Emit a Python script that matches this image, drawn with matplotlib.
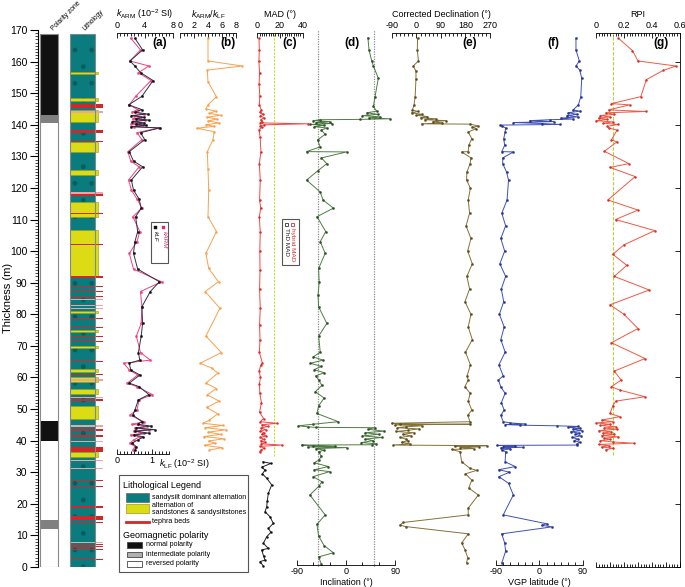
#!/usr/bin/env python3
"""Composite section log: polarity, lithology and palaeomagnetic parameters vs thickness."""

import matplotlib
matplotlib.use("Agg")
import matplotlib.pyplot as plt
from matplotlib.patches import Rectangle
from matplotlib.lines import Line2D
from matplotlib.ticker import MultipleLocator, FixedLocator, FuncFormatter

plt.rcParams["font.family"] = ["Liberation Sans", "DejaVu Sans"]
plt.rcParams["mathtext.fontset"] = "custom"
plt.rcParams["mathtext.rm"] = "Liberation Sans"
plt.rcParams["mathtext.it"] = "Liberation Sans:italic"
plt.rcParams["axes.unicode_minus"] = False

# ---------------- data ----------------
# polarity zones (m)
pol_bottom = [0.0, 12.0, 14.9, 40.0, 46.3, 140.6, 143.0]
pol_top = [12.0, 14.9, 40.0, 46.3, 140.6, 143.0, 168.6]
pol_kind = ["R", "I", "R", "N", "R", "I", "N"]

# sandstone / sandysiltstone beds (m)
sand_bottom = [34.7, 46.7, 54.7, 58.6, 61.8, 69.3, 74.3, 80.3, 92.1, 110.7, 124.0, 131.4, 141.0, 147.6, 156.0]
sand_top = [36.3, 50.9, 56.3, 60.0, 62.6, 70.0, 75.0, 81.1, 106.6, 115.4, 125.6, 134.6, 144.6, 148.4, 156.8]

# tephra beds (m)
tephra_depth = [2.4, 5.4, 6.4, 7.0, 7.7, 14.1, 15.6, 18.9, 25.4, 27.5, 31.2, 33.8, 37.2, 39.7, 41.5,
                43.4, 44.6, 52.9, 53.7, 59.2, 60.8, 65.0, 71.3, 72.9, 75.8, 78.7, 81.9, 82.9, 84.7, 85.6,
                87.3, 88.9, 91.8, 102.1, 111.9, 117.9, 118.4, 134.6, 138.0, 144.1, 145.9]
tephra_thick = [0.25, 0.3, 0.25, 0.25, 0.3, 0.6, 1.3, 0.6, 0.4, 0.4, 0.3, 0.4, 1.6, 0.5, 0.4,
                0.5, 0.5, 0.4, 0.4, 0.5, 0.3, 0.5, 0.4, 0.3, 0.4, 0.3, 0.3, 0.4, 0.5, 0.3,
                0.3, 0.3, 0.5, 0.3, 0.3, 0.8, 0.5, 0.4, 1.0, 0.5, 1.1]
tephra_faint = [0, 0, 0, 0, 1, 0, 0, 0, 0, 0, 1, 1, 0, 1, 0,
                0, 1, 0, 1, 1, 0, 0, 0, 0, 0, 0, 1, 1, 1, 0,
                0, 0, 0, 0, 0, 0, 1, 0, 0, 1, 0]

# (a) kARM and kLF
a_depth = [167.4, 163.7, 160.2, 158.6, 156.5, 154.0, 149.0, 146.3, 144.8, 144.0,
           143.4, 142.9, 142.4, 141.9, 141.5, 141.0, 140.6, 140.2, 139.8, 139.4,
           139.0, 137.5, 135.3, 131.5, 128.5, 126.7, 122.5, 119.3, 116.5, 113.6,
           110.9, 106.2, 103.0, 99.3, 94.3, 90.3, 87.2, 82.4, 77.1, 73.1,
           67.9, 65.5, 64.5, 62.4, 60.8, 58.2, 57.1, 54.6, 52.9, 49.7,
           48.1, 46.0, 45.2, 44.6, 44.0, 43.5, 43.0, 42.4, 41.8, 41.2,
           40.2, 39.2, 38.1, 37.0]
k_arm = [2.0, 3.4, 1.9, 4.6, 3.1, 4.9, 2.7, 1.8, 3.0, 2.2,
         3.9, 2.5, 3.4, 2.3, 4.1, 2.6, 3.5, 2.1, 3.8, 2.4,
         6.0, 2.9, 3.6, 1.6, 2.0, 3.2, 1.7, 2.1, 2.9, 3.6,
         2.3, 3.3, 2.9, 1.8, 2.4, 6.4, 3.4, 3.6, 3.5, 2.8,
         3.4, 4.8, 1.0, 1.8, 3.0, 1.5, 2.9, 5.1, 3.2, 2.9,
         1.9, 3.9, 2.2, 4.3, 2.6, 4.6, 2.4, 3.9, 2.0, 3.3,
         2.4, 1.9, 2.6, 2.3]
k_lf = [0.52, 0.74, 0.38, 0.52, 0.68, 1.04, 0.72, 0.34, 0.72, 0.52,
        0.88, 0.42, 0.78, 0.54, 0.92, 0.44, 0.78, 0.56, 0.84, 0.40,
        1.24, 0.68, 0.80, 0.36, 0.48, 0.74, 0.42, 0.48, 0.64, 0.70,
        0.54, 0.60, 0.52, 0.48, 0.60, 1.22, 0.96, 0.72, 0.74, 0.70,
        0.62, 0.66, 0.36, 0.40, 0.66, 0.36, 0.64, 0.92, 0.62, 0.52,
        0.46, 0.72, 0.60, 0.98, 0.56, 1.08, 0.52, 0.92, 0.50, 0.76,
        0.60, 0.44, 0.56, 0.52]

# (b) kARM/kLF
b_depth = [167.4, 160.2, 158.6, 157.3, 153.6, 148.9, 146.3, 145.0, 144.3, 143.6,
           143.0, 142.4, 141.8, 141.2, 140.6, 140.0, 139.5, 138.9, 137.8, 135.2,
           131.5, 126.0, 119.3, 110.9, 106.2, 99.3, 94.5, 90.3, 87.2, 81.9,
           73.1, 67.9, 64.5, 63.0, 61.4, 58.2, 56.5, 54.5, 52.5, 50.5,
           48.5, 46.5, 45.5, 44.8, 44.1, 43.4, 42.7, 42.0, 41.3, 40.6,
           39.9, 39.2, 38.5, 37.8, 37.0]
arm_lf_ratio = [4.0, 4.0, 8.9, 3.9, 4.0, 5.2, 4.0, 3.7, 5.1, 4.2,
                5.8, 3.8, 5.3, 4.0, 5.6, 3.7, 4.9, 2.4, 4.9, 4.7,
                3.9, 4.0, 4.1, 4.0, 5.2, 3.7, 4.1, 5.5, 3.6, 5.7,
                3.7, 5.9, 2.9, 4.5, 5.4, 3.7, 5.2, 3.9, 5.6, 3.8,
                5.4, 4.2, 3.3, 6.1, 3.6, 6.5, 4.0, 5.8, 3.4, 6.3,
                4.1, 5.0, 3.5, 6.0, 4.2]

# (c) MAD
c_depth = [167.4, 163.7, 160.2, 156.5, 153.0, 149.0, 146.3, 144.7, 144.0, 143.4,
           142.8, 142.2, 141.6, 141.0, 140.6, 140.3, 140.0, 139.6, 139.2, 138.5,
           136.0, 131.5, 127.7, 122.5, 116.2, 113.6, 110.9, 106.0, 100.0, 94.0,
           88.0, 82.0, 76.5, 72.0, 68.0, 64.5, 63.8, 62.0, 60.0, 58.0,
           55.0, 52.0, 49.0, 47.0, 46.0, 45.5, 45.0, 44.5, 44.0, 43.5,
           43.0, 42.5, 42.0, 41.5, 41.0, 40.5, 40.0, 39.5, 39.0, 38.6,
           38.2, 37.6, 37.0, 36.5]
mad_hybrid = [1.5, 1.8, 1.4, 2.0, 1.6, 2.2, 1.8, 3.5, 2.2, 5.0,
              2.8, 6.0, 3.0, 4.5, 2.5, 45.0, 6.0, 2.4, 4.5, 1.6,
              2.5, 3.2, 1.8, 2.6, 2.0, 3.0, 1.8, 2.6, 2.2, 2.4,
              2.0, 2.6, 2.0, 2.4, 1.8, 4.5, 3.0, 1.6, 2.8, 1.9,
              2.2, 3.6, 2.0, 5.5, 2.6, 17.0, 4.0, 9.0, 3.2, 7.5,
              2.5, 6.0, 3.8, 8.0, 2.5, 5.5, 3.0, 7.0, 3.5, 21.5,
              2.8, 6.0, 3.0, 2.0]
c2_depth = [33.3, 32.8, 31.6, 30.7, 29.5, 28.1, 26.0, 23.3, 21.0, 19.1,
            17.5, 15.9, 13.8, 12.2, 11.0, 9.6, 7.5, 5.9, 5.4, 3.5,
            2.2, 1.7, 0.3]
mad_thd = [5.0, 12.0, 3.9, 6.8, 4.5, 8.3, 12.7, 9.7, 8.8, 8.3,
           6.8, 11.2, 14.1, 9.7, 12.0, 8.3, 5.3, 9.7, 3.9, 5.5,
           6.8, 2.4, 5.3]
mad_limit = 15

# (d) inclination
d_depth = [167.6, 163.7, 160.2, 158.6, 154.7, 148.9, 145.8, 144.3, 143.8, 143.3,
           142.9, 142.5, 142.2, 141.9, 141.7, 141.6, 141.3, 141.0, 140.7, 140.4,
           140.1, 139.8, 139.4, 139.0, 138.3, 137.0, 135.2, 133.0, 131.5, 131.4,
           129.5, 127.7, 125.5, 122.5, 118.7, 116.2, 113.6, 110.9, 106.2, 103.0,
           99.3, 94.5, 90.3, 86.0, 82.4, 77.1, 73.1, 68.0, 66.5, 65.5,
           64.5, 63.5, 62.5, 61.5, 60.5, 59.2, 57.5, 55.5, 53.5, 51.0,
           48.6, 46.0, 45.2, 44.7, 44.4, 44.2, 44.1, 43.6, 43.0, 42.5,
           42.0, 41.5, 41.0, 40.5, 40.0, 39.4, 39.0, 38.7, 38.6, 38.4,
           38.2, 38.0, 37.8, 37.5, 37.0, 36.5, 35.0, 33.8, 33.0, 31.8,
           30.8, 30.2, 28.6, 27.0, 25.5, 22.8, 16.5, 13.5, 9.8, 6.8,
           4.5, 3.2, 0.9]
inclination = [40, 42, 47, 50, 59, 53, 50, 56, 38, 58,
               30, 62, 42, 80, 25, -47, -60, -30, -55, -25,
               -65, -40, -58, -35, -45, -38, -52, -47, -72, 1,
               -45, -35, -51, -72, -47, -42, -23, -53, -37, -47,
               -38, -50, -49, -51, -50, -35, -50, -47, -60, -42,
               -65, -45, -58, -40, -55, -50, -44, -56, -40, -50,
               -53, -14, -60, -87, -70, -55, 53, 40, 70, 35,
               60, 30, 65, 35, 50, 28, 55, 48, -81, -60,
               -20, -70, 1, -55, -40, -50, -45, -50, -58, -32,
               -58, -30, -60, -44, -50, -66, -38, -53, -50, -40,
               -23, -50, -45]
gad_inc = 51

# (e) corrected declination
e_depth = [167.4, 163.7, 160.2, 158.6, 157.0, 154.5, 148.9, 146.3, 144.7, 144.2,
           143.8, 143.3, 143.0, 142.6, 142.2, 141.9, 141.6, 141.3, 141.0, 140.6,
           140.3, 140.2, 139.6, 139.2, 138.8, 137.7, 135.6, 133.5, 131.5, 131.4,
           129.5, 127.7, 125.0, 122.5, 119.9, 116.2, 112.0, 108.0, 104.0, 100.0,
           96.0, 92.0, 88.0, 84.0, 80.0, 76.0, 72.0, 68.0, 64.0, 60.5,
           59.2, 57.1, 55.0, 52.5, 49.7, 48.0, 46.0, 45.5, 45.3, 45.2,
           45.0, 44.7, 44.4, 44.1, 43.7, 43.3, 42.9, 42.5, 42.0, 41.5,
           41.0, 40.5, 40.0, 39.5, 39.0, 38.6, 38.4, 38.2, 38.0, 37.8,
           37.5, 37.2, 36.5, 33.3, 31.2, 30.6, 29.5, 27.5, 25.0, 22.8,
           18.6, 16.5, 14.1, 13.3, 12.8, 10.5, 7.6, 5.5, 3.0, 1.3]
declination = [4, 3, 7, -12, -2, -2, -5, -9, -15, 5,
               -18, 20, 0, 40, 15, 70, 30, 110, 60, 95,
               19, 197, 227, 205, 220, 190, 203, 192, 190, 166,
               200, 197, 185, 184, 198, 190, 195, 182, 200, 188,
               205, 185, 195, 178, 200, 190, 205, 180, 198, 186,
               190, 178, 197, 190, 203, 188, 197, -91, -60, 195,
               -80, 20, -40, -70, 10, -30, -75, -10, -50, -20,
               -60, -40, -30, -55, -25, -85, 258, 140, 230, 160,
               210, 130, 160, 166, 197, 221, 180, 203, 192, 227,
               190, 190, -48, -61, -40, 190, 166, 178, 188, 184]

# (f) VGP latitude
f_depth = [167.4, 163.7, 160.2, 158.6, 157.3, 154.7, 148.9, 146.3, 144.7, 144.3,
           143.8, 143.3, 142.9, 142.5, 142.1, 141.8, 141.6, 141.3, 141.0, 140.7,
           140.4, 140.1, 139.9, 139.6, 139.0, 137.7, 135.6, 133.5, 131.5, 131.4,
           129.5, 127.7, 125.0, 122.5, 116.2, 112.0, 108.0, 104.0, 100.0, 96.0,
           92.0, 88.0, 84.0, 80.0, 76.0, 72.0, 68.0, 64.0, 60.5, 59.2,
           57.0, 55.0, 52.0, 49.7, 48.0, 46.0, 45.6, 45.3, 45.1, 44.9,
           44.7, 44.5, 44.2, 43.9, 43.6, 43.2, 42.8, 42.4, 42.0, 41.5,
           41.0, 40.5, 40.0, 39.5, 39.0, 38.6, 38.5, 38.3, 38.1, 37.9,
           37.7, 37.4, 37.0, 36.5, 33.3, 31.8, 30.8, 30.0, 28.6, 26.5,
           22.8, 16.5, 13.7, 13.2, 12.7, 10.5, 7.6, 5.0, 1.3]
vgp_lat = [76, 76, 83, 76, 84, 88, 86, 81, 70, 84,
           60, 78, 57, 80, 45, 70, 22, -20, 30, -54,
           5, 43, -81, -78, -70, -71, -74, -72, -78, -54,
           -76, -76, -68, -64, -67, -78, -70, -80, -72, -82,
           -70, -79, -74, -83, -73, -80, -71, -84, -75, -85,
           -80, -71, -79, -73, -80, -75, -60, -30, -71, -40,
           36, 80, 60, 85, 70, 88, 65, 82, 75, 86,
           68, 80, 72, 84, 78, 78, -88, -50, -75, -34,
           -80, -60, -78, -70, -71, -50, -84, -62, -84, -64,
           -54, -75, 15, 5, 26, -78, -72, -70, -78]

# (g) RPI
g_depth = [167.4, 163.5, 160.2, 158.6, 157.2, 154.3, 148.9, 146.7, 146.3, 144.7,
           144.2, 143.8, 143.3, 142.9, 142.5, 142.1, 141.7, 141.3, 140.9, 140.5,
           140.1, 139.5, 139.0, 138.3, 135.2, 134.6, 131.6, 127.7, 126.5, 123.6,
           116.2, 113.0, 110.0, 106.5, 102.0, 99.0, 95.5, 92.0, 87.7, 83.0,
           80.0, 75.5, 71.0, 66.0, 62.0, 59.2, 57.1, 56.0, 53.9, 52.5,
           51.0, 48.6, 47.6, 46.5, 46.0, 45.6, 45.2, 44.8, 44.4, 44.0,
           43.6, 43.2, 42.8, 42.4, 42.0, 41.6, 41.2, 40.8, 40.4, 40.0,
           39.6, 39.2, 38.8, 38.4, 38.0, 37.6, 37.1]
rpi = [0.16, 0.26, 0.30, 0.57, 0.48, 0.36, 0.32, 0.11, 0.24, 0.09,
       0.36, 0.07, 0.13, 0.03, 0.10, 0.02, 0.08, 0.00, 0.12, 0.05,
       0.16, 0.08, 0.09, 0.15, 0.11, 0.15, 0.06, 0.235, 0.10, 0.28,
       0.085, 0.30, 0.14, 0.42, 0.20, 0.12, 0.22, 0.13, 0.38, 0.10,
       0.20, 0.30, 0.11, 0.35, 0.13, 0.18, 0.11, 0.17, 0.35, 0.14,
       0.12, 0.10, 0.17, 0.04, 0.12, 0.00, 0.10, 0.03, 0.14, 0.06,
       0.15, 0.02, 0.11, 0.05, 0.13, 0.04, 0.16, 0.06, 0.10, 0.03,
       0.12, 0.27, 0.02, 0.09, 0.04, 0.12, 0.07]
rpi_limit = 0.12

# ---------------- styling ----------------
W, H = 685, 587
Y_TOP, Y_BOT = 30, 567          # pixel rows of 170 m and 0 m
TEAL = "#0b7c7e"
YELLOW = "#dcdc14"
TEPHRA = "#d0282a"
TEPHRA_FAINT = "#eba5a5"
TICK_FS = 6.5

fig = plt.figure(figsize=(W / 100, H / 100), dpi=100)


def fx(x):
    return x / W


def fy(y):
    return 1 - y / H


def ftext(x, y, s, **kw):
    kw.setdefault("fontsize", 6)
    fig.text(fx(x), fy(y), s, **kw)


def frect(x, y, w, h, **kw):
    fig.add_artist(Rectangle((fx(x), fy(y + h)), w / W, h / H, transform=fig.transFigure, **kw))


def fline(x0, x1, y0, y1, **kw):
    fig.add_artist(Line2D([fx(x0), fx(x1)], [fy(y0), fy(y1)], transform=fig.transFigure, **kw))


def add_panel(x0, x1, xlim):
    ax = fig.add_axes([fx(x0), fy(Y_BOT), (x1 - x0) / W, (Y_BOT - Y_TOP) / H])
    ax.set_xlim(xlim)
    ax.set_ylim(0, 170)
    ax.patch.set_visible(False)
    for s in ax.spines.values():
        s.set_visible(False)
        s.set_linewidth(0.6)
    ax.tick_params(which="both", left=False, labelleft=False, right=False, labelright=False,
                   bottom=False, labelbottom=False, top=False, labeltop=False)
    return ax


def scale(ax, side, major, minor, label, ypos, labelpad=3, show_labels=True):
    ax.spines[side].set_visible(True)
    ax.spines[side].set_position(("data", ypos))
    if isinstance(major, list):
        ax.xaxis.set_major_locator(FixedLocator(major))
    else:
        ax.xaxis.set_major_locator(MultipleLocator(major))
    if isinstance(minor, list):
        ax.xaxis.set_minor_locator(FixedLocator(minor))
    else:
        ax.xaxis.set_minor_locator(MultipleLocator(minor))
    on = {"top": side == "top", "labeltop": side == "top" and show_labels,
          "bottom": side == "bottom", "labelbottom": side == "bottom" and show_labels}
    ax.tick_params(which="both", direction="in", width=0.6, labelsize=TICK_FS, pad=1.5, **on)
    ax.tick_params(which="major", length=3.5)
    ax.tick_params(which="minor", length=2)
    if label:
        ax.xaxis.set_label_position(side)
        ax.set_xlabel(label, fontsize=6.5, labelpad=labelpad)


def log_line(ax, x, y, color, mcolor=None, lw=0.7, ms=1.6):
    ax.plot(x, y, color=color, lw=lw, marker="o", ms=ms, mfc=mcolor or color,
            mec=mcolor or color, mew=0.3, clip_on=False)


# ---------------- polarity + lithology columns ----------------
ax0 = fig.add_axes([fx(38), fy(Y_BOT), 67 / W, (Y_BOT - Y_TOP) / H])
ax0.set_xlim(38, 105)
ax0.set_ylim(0, 170)
ax0.patch.set_visible(False)
for s in ["top", "right", "bottom"]:
    ax0.spines[s].set_visible(False)
ax0.spines["left"].set_linewidth(0.8)
ax0.yaxis.set_major_locator(MultipleLocator(10))
ax0.yaxis.set_minor_locator(MultipleLocator(1))
ax0.tick_params(axis="y", which="major", length=6, width=0.8, labelsize=7.5, pad=1.5)
ax0.tick_params(axis="y", which="minor", length=2.5, width=0.5)
ax0.tick_params(axis="x", bottom=False, labelbottom=False)
ftext(8, 298, "Thickness (m)", rotation=90, ha="center", va="center", fontsize=8)

pol_colors = {"N": "#111111", "I": "#808080", "R": "white"}
for b, t, k in zip(pol_bottom, pol_top, pol_kind):
    ax0.barh(b, 18, height=t - b, left=40, align="edge", color=pol_colors[k], lw=0)
ax0.barh(pol_bottom[0], 18, height=pol_top[-1] - pol_bottom[0], left=40, align="edge",
         fc="none", ec="#8a8a8a", lw=0.8)

lith_top = pol_top[-1]
ax0.barh(0, 25, height=lith_top, left=70, align="edge", color=TEAL, lw=0)
ax0.barh(0, 25, height=lith_top, left=70, align="edge", fc="none", ec="#0a5d5e", hatch=".", lw=0)
for b, t in zip(sand_bottom, sand_top):
    ax0.barh(b, 28, height=t - b, left=70, align="edge", color=YELLOW, ec="#9a9a20", lw=0.4)
for d, th, faint in zip(tephra_depth, tephra_thick, tephra_faint):
    ax0.barh(d - th / 2, 33, height=th, left=70, align="edge",
             color=TEPHRA_FAINT if faint else TEPHRA, lw=0)
ax0.barh(0, 25, height=lith_top, left=70, align="edge", fc="none", ec="#7f8a8a", lw=0.8)

ftext(54, 31, "Polarity zone", rotation=45, ha="left", va="baseline", rotation_mode="anchor", fontsize=4.8)
ftext(85, 31, "Lithology", rotation=45, ha="left", va="baseline", rotation_mode="anchor", fontsize=4.8)

# ---------------- (a) kARM / kLF ----------------
ax_a = add_panel(116.7, 172.7, (0, 8))
scale(ax_a, "top", [0, 4, 8], 0.5, r"$k_{\rm ARM}$ (10$^{-2}$ SI)", 169.2)
log_line(ax_a, k_arm, a_depth, "#f2427a")
ax_a2 = add_panel(116.7, 172.7, (0, 1.6))
scale(ax_a2, "bottom", [0, 1], [i / 10 for i in range(16)], None, 35.8)
ax_a2.spines["bottom"].set_bounds(0, 1.5)
log_line(ax_a2, k_lf, a_depth, "#30304a", "#111111")
ftext(159, 464, r"$k_{\rm LF}$ (10$^{-2}$ SI)", ha="left", va="center", fontsize=6.5)

# small rotated legend
frect(150.7, 221.7, 17.6, 41, fc="white", ec="#555555", lw=0.8, zorder=5)
frect(162.2, 226.0, 3.2, 3.2, fc="#e0286a", ec="#e0286a", lw=0.3, zorder=6)
frect(153.6, 226.0, 3.2, 3.2, fc="#111111", ec="#111111", lw=0.3, zorder=6)
ftext(164.2, 231.5, "kARM", rotation=270, ha="center", va="top", color="#e0286a",
      fontsize=4.6, style="italic", zorder=6)
ftext(155.4, 231.5, "kLF", rotation=270, ha="center", va="top", color="#111111",
      fontsize=4.6, style="italic", zorder=6)

# ---------------- (b) kARM/kLF ----------------
ax_b = add_panel(180, 236, (0, 8))
scale(ax_b, "top", 2, 0.5, r"$k_{\rm ARM}/k_{\rm LF}$", 169.2)
log_line(ax_b, arm_lf_ratio, b_depth, "#f8a14e", ms=1.4)

# ---------------- (c) MAD ----------------
ax_c = add_panel(257.3, 302.7, (0, 40))
scale(ax_c, "top", 20, 2, "MAD (°)", 169.2)
ax_c.vlines(mad_limit, 35, 169.2, colors="#c8dc28", linestyles=(0, (2, 1.2)), lw=0.8)
log_line(ax_c, mad_hybrid, c_depth, "#f04848", "#e02a2a", ms=1.4)
log_line(ax_c, mad_thd, c2_depth, "#222222", "#111111", ms=1.4)

frect(282.3, 219.3, 17, 45.7, fc="white", ec="#555555", lw=0.8, zorder=5)
frect(291.2, 223.0, 3.2, 3.2, fc="none", ec="#e02a2a", lw=0.6, zorder=6)
frect(284.8, 223.0, 3.2, 3.2, fc="none", ec="#333333", lw=0.6, zorder=6)
ftext(292.8, 228.5, "hybrid MAD", rotation=270, ha="center", va="top", color="#e02a2a",
      fontsize=4.6, zorder=6)
ftext(286.4, 228.5, "ThD MAD", rotation=270, ha="center", va="top", color="#222222",
      fontsize=4.6, zorder=6)

# ---------------- (d) inclination ----------------
ax_d = add_panel(296.7, 395.3, (-90, 90))
scale(ax_d, "bottom", 90, 30, "Inclination (°)", 0.6, labelpad=1)
for v in (-gad_inc, gad_inc):
    ax_d.axvline(v, color="#8c8c8c", ls=(0, (1, 1)), lw=0.9)
log_line(ax_d, inclination, d_depth, "#4f7d43", "#2e4d28", ms=1.5)

# ---------------- (e) declination ----------------
ax_e = add_panel(392, 490, (-90, 270))
scale(ax_e, "top", 90, 15, "Corrected Declination (°)", 169.2, labelpad=3)
log_line(ax_e, declination, e_depth, "#857238", "#5c4c20", ms=1.5)

# ---------------- (f) VGP latitude ----------------
ax_f = add_panel(496, 582.7, (-90, 90))
scale(ax_f, "bottom", 90, 15, "VGP latitude (°)", 0.6, labelpad=1)
log_line(ax_f, vgp_lat, f_depth, "#3f50b8", "#28348a", ms=1.5)

# ---------------- (g) RPI ----------------
ax_g = add_panel(596, 680, (0, 0.6))
scale(ax_g, "top", 0.2, 0.02, "RPI", 169.2, labelpad=3)
ax_g.xaxis.set_major_formatter(FuncFormatter(lambda v, p: "0" if abs(v) < 1e-9 else f"{v:.1f}"))
ax_g.spines["right"].set_visible(True)
ax_g.spines["right"].set_bounds(0, 169.2)
ax_g.yaxis.set_major_locator(MultipleLocator(20))
ax_g.tick_params(axis="y", which="major", right=True, labelright=False, direction="in",
                 length=3.5, width=0.6)
ax_g2 = add_panel(596, 680, (0, 0.6))
scale(ax_g2, "bottom", 0.1, 0.02, None, 0.1, show_labels=False)
ax_g.vlines(rpi_limit, 35.4, 169.2, colors="#b8d030", linestyles=(0, (3, 1.5)), lw=0.8)
log_line(ax_g, rpi, g_depth, "#ee5a44", "#d83020", ms=1.4)

# panel letters
for x, s in [(160, "(a)"), (228, "(b)"), (290, "(c)"), (352, "(d)"),
             (470, "(e)"), (553, "(f)"), (661, "(g)")]:
    ftext(x, 43, s, ha="center", va="center", fontsize=8.5, fontweight="bold")

# ---------------- legend box ----------------
frect(119, 475, 129, 97, fc="white", ec="#555555", lw=0.8, zorder=5)
ftext(123, 486, "Lithological Legend", va="center", fontsize=6.5, zorder=6)
frect(126, 493, 23, 9, fc=TEAL, ec="#666666", lw=0.5, zorder=6)
ftext(152, 497.5, "sandysilt dominant alternation", va="center", fontsize=5.1, zorder=6)
frect(126, 504, 23, 9, fc=YELLOW, ec="#9a9a20", lw=0.5, zorder=6)
ftext(152, 505.5, "alternation of", va="center", fontsize=5.1, zorder=6)
ftext(152, 512, "sandstones & sandysiltstones", va="center", fontsize=5.1, zorder=6)
fline(126, 149, 521.5, 521.5, color=TEPHRA, lw=2, zorder=6)
ftext(152, 521.5, "tephra beds", va="center", fontsize=5.1, zorder=6)
ftext(123, 535, "Geomagnetic polarity", va="center", fontsize=6.5, zorder=6)
for y, c, s in [(542, "#111111", "normal polarity"), (551.5, "#b0b0b0", "intermediate polarity"),
                (561, "white", "reversed polarity")]:
    frect(127, y, 15, 5.5, fc=c, ec="#444444", lw=0.6, zorder=6)
    ftext(146, y + 2.8, s, va="center", fontsize=5.1, zorder=6)

fig.savefig("out.png", dpi=100)
